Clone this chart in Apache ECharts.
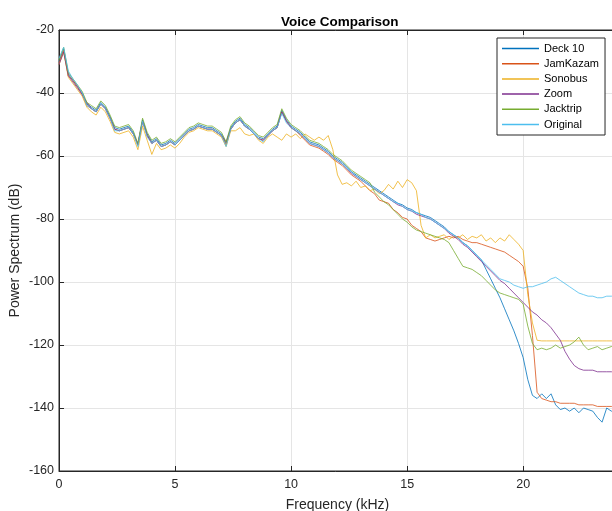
<!DOCTYPE html>
<html>
<head>
<meta charset="utf-8">
<script src="https://cdn.jsdelivr.net/npm/echarts@6/dist/echarts.min.js"></script>
<style>html,body{margin:0;padding:0;background:#fff;}#c{width:612px;height:511px;}</style>
</head>
<body>
<div id="c"></div>
<script>
const seriesNames = ['Deck 10','JamKazam','Sonobus','Zoom','Jacktrip','Original'];
const xTicks = [0,5,10,15,20];
const yTicks = [-160,-140,-120,-100,-80,-60,-40,-20];

const freqKHz = [0,0.2,0.4,0.6,0.8,1.0,1.2,1.4,1.6,1.8,2.0,2.2,2.4,2.6,2.8,3.0,3.2,3.4,3.6,3.8,
4.0,4.2,4.4,4.6,4.8,5.0,5.2,5.4,5.6,5.8,6.0,6.2,6.4,6.6,6.8,7.0,7.2,7.4,7.6,7.8,
8.0,8.2,8.4,8.6,8.8,9.0,9.2,9.4,9.6,9.8,10.0,10.2,10.4,10.6,10.8,11.0,11.2,11.4,11.6,11.8,
12.0,12.2,12.4,12.6,12.8,13.0,13.2,13.4,13.6,13.8,14.0,14.2,14.4,14.6,14.8,15.0,15.2,15.4,15.6,15.8,
16.0,16.2,16.4,16.6,16.8,17.0,17.2,17.4,17.6,17.8,18.0,18.2,18.4,18.6,18.8,19.0,19.2,19.4,19.6,19.8,
20.0,20.2,20.4,20.6,20.8,21.0,21.2,21.4,21.6,21.8,22.0,22.2,22.4,22.6,22.8,23.0,23.2,23.4,23.6,23.8,24.0];

const deck10 = [-30,-26,-34,-36,-38,-40,-43.5,-44.5,-45.5,-43,
-44.5,-47.5,-51,-51.5,-51,-50.5,-52.5,-56.5,-48.5,-53,
-55.5,-54.5,-56.5,-56,-55,-56,-54.5,-53,-51.5,-51,
-50,-50.5,-51,-51,-52,-53,-56,-51,-49,-48,
-50,-51,-52.5,-54,-54.5,-53,-51.5,-50.5,-45.5,-48.5,
-50.5,-51.5,-52.5,-54,-55.5,-56,-56.5,-57.5,-58.5,-60,
-61,-62,-63.5,-65,-66,-67,-68,-69,-70,-71,
-72,-73,-74,-75,-75.5,-76.5,-77,-78,-78.5,-79,
-79.5,-80.5,-81.5,-82.5,-84,-85,-86,-87.5,-88.5,-90,
-91.5,-93,-96,-99,-102,-105,-108.5,-112,-115.5,-119.5,
-124,-131,-136,-137,-135.5,-137,-135.5,-139,-140.5,-140,
-141,-140,-141.5,-140,-140.5,-141,-143,-144.5,-140,-141,-141];

const jamKazam = [-30.5,-26.5,-34.5,-36,-38,-40.5,-44,-45,-46,-43.5,
-45,-48,-51.5,-52,-51.5,-51,-53,-56.5,-49,-53.5,
-56,-55,-57,-56.5,-55.5,-56.5,-55,-53.5,-52,-51.5,
-50.5,-51,-51.5,-51.5,-52.5,-53.5,-56.5,-51.5,-49.5,-48.5,
-50.5,-51.5,-53,-54.5,-55,-53.5,-52,-51,-46,-49,
-51,-52,-53.5,-55,-56.5,-57,-57.5,-58.5,-59.5,-61,
-62,-63,-64.5,-66,-67,-68,-69.5,-71,-72,-74,
-74.5,-75,-77,-78,-79.5,-80,-82,-83,-84,-86,
-86.5,-87,-86.5,-86,-85.5,-86,-85.5,-86.5,-87,-87.5,
-87.5,-88,-88.5,-89,-89.5,-90,-90.5,-91.5,-92.5,-93.5,
-95,-102,-117,-135,-137,-137.5,-138,-138,-138.5,-138.5,
-138.5,-138.5,-139,-139,-139,-139,-139.5,-139.5,-139.5,-139.5,-140];

const sonobus = [-31,-27,-35,-37,-39,-41,-44.5,-46,-47,-44.5,
-46,-49,-52.5,-53,-52.5,-52,-54,-58,-50.5,-55,
-59.5,-56,-58,-57.5,-56.5,-57.5,-56,-54,-52.5,-52,
-51,-51.5,-52,-52,-53,-54,-57,-52,-52,-51,
-53,-53.5,-53,-55,-56,-54,-53,-54,-55,-53,
-54,-53,-54.5,-53,-54,-55,-54,-55,-53.5,-58,
-66,-69,-68.5,-69.5,-68,-70,-69.5,-71,-70.5,-72,
-71,-69,-70.5,-68,-70,-67.5,-68.5,-71,-82,-86,
-85,-86,-85.5,-85,-86.5,-85.5,-86,-85,-86.5,-85.5,
-86,-85,-87,-86,-87.5,-86,-87,-85,-86.5,-88,
-90,-104,-113,-118.5,-118.7,-118.7,-118.7,-118.7,-118.7,-118.7,
-118.7,-118.7,-118.7,-118.7,-118.7,-118.7,-118.7,-118.7,-118.7,-118.7,-118.7];

const zoomApp = [-31,-27,-34.5,-36.5,-38.5,-40.5,-43,-45,-46,-43.5,
-45,-48,-51.5,-52,-51.5,-51,-53,-56,-49,-53.5,
-56,-55,-57,-56.5,-55.5,-56.5,-55,-53.5,-52,-51.5,
-50.5,-51,-51.5,-51.5,-52.5,-53.5,-55.5,-51.5,-49.5,-48.5,
-50.5,-51.5,-53,-54.5,-55,-53.5,-52,-51,-46,-49,
-51,-52,-53,-54.5,-56,-56.5,-57,-58,-59,-60.5,
-61.5,-62.5,-64,-65.5,-66.5,-67.5,-68.5,-69.5,-70.5,-71.5,
-72.5,-73.5,-74.5,-75.5,-76,-77,-77.5,-78.5,-79,-79.5,
-80,-81,-82,-83,-84.5,-85.5,-86.5,-88,-89,-90.5,
-92,-93.5,-95,-96.5,-98,-99.5,-100.5,-102,-103.5,-105,
-106.5,-108,-109.5,-110.5,-112,-113,-114.5,-116.5,-118.5,-122,
-124.5,-126.5,-127.5,-128,-128,-128,-128.5,-128.5,-128.5,-128.5,-128.5];

const jacktrip = [-29.5,-25.5,-33.5,-35.5,-37.5,-39.5,-43,-44,-45,-42.5,
-44,-47,-50.5,-51,-50.5,-50,-52,-56,-48,-52.5,
-55,-54,-56,-55.5,-54.5,-55.5,-54,-52.5,-51,-50.5,
-49.5,-50,-50.5,-50.5,-51.5,-52.5,-55.5,-50.5,-48.5,-47.5,
-49.5,-50.5,-52,-53.5,-54,-52.5,-51,-50,-45,-48,
-50,-51,-52,-53.5,-55,-55.5,-56,-57,-58,-59.5,
-60.5,-61.5,-63,-64.5,-65.5,-66.5,-67.5,-68.5,-71.5,-73,
-74.5,-75.5,-77,-78.5,-80,-81,-82.5,-83.5,-84,-84.5,
-85,-85.5,-86,-86.5,-87.5,-90,-92.5,-95,-95.5,-96,
-97,-98,-99.5,-101,-102.5,-103.5,-104,-104.5,-105,-105.5,
-107,-114,-119.5,-121.5,-121,-121.5,-121,-120,-121,-120.5,
-120,-119,-117.5,-120,-121.5,-121,-120.5,-121.5,-121,-120.5,-120];

const original = [-29,-25.5,-33,-35.5,-37.5,-40,-44,-45,-46,-43.5,
-45,-48,-52,-52,-51.5,-51,-53,-57,-49,-54,
-56,-55,-57,-56.5,-55.5,-56.5,-55,-53.5,-52,-51.5,
-50.5,-51,-51.5,-51.5,-52.5,-53.5,-57,-51.5,-49.5,-48.5,
-50.5,-51.5,-53,-54.5,-55.5,-53.5,-52,-51,-46.5,-49.5,
-51,-52,-53,-54.5,-56,-56.5,-57,-58,-59,-60.5,
-61.5,-62.5,-64,-65,-66.5,-67.5,-68.5,-69.5,-70.5,-71.5,
-72.5,-73.5,-74.5,-75,-76,-77,-77.5,-78,-78.5,-79.5,
-80,-81,-82,-83,-84,-85,-86,-87.5,-88.5,-90,
-91.5,-93,-94.5,-96,-97.5,-99,-99.5,-100,-101,-101.5,
-102,-101.5,-101.5,-101,-100.5,-100,-99,-98.5,-99.5,-100.5,
-101.5,-102.5,-103.5,-104,-104.5,-104.5,-105,-105,-104.5,-104.5,-104.5];

const seriesValues = [deck10, jamKazam, sonobus, zoomApp, jacktrip, original];
const seriesColors = ['#0072BD','#D95319','#EDB120','#7E2F8E','#77AC30','#4DBEEE'];

const FONT = 'Liberation Sans';
const AX = '#262626';

const chart = echarts.init(document.getElementById('c'), null, {renderer: 'canvas'});
chart.setOption({
  animation: false,
  backgroundColor: '#fff',
  title: {
    text: 'Voice Comparison', left: 276, top: 10,
    textStyle: {fontFamily: FONT, fontSize: 13.5, fontWeight: 'bold', color: '#000'}
  },
  legend: {
    data: seriesNames, orient: 'vertical', left: 497, top: 38,
    padding: [4, 6, 4, 5], itemGap: 2.2, itemWidth: 37, itemHeight: 1.5, icon: 'rect',
    backgroundColor: '#fff', borderColor: '#262626', borderWidth: 1, borderRadius: 0,
    textStyle: {fontFamily: FONT, fontSize: 11, color: '#000', lineHeight: 13}
  },
  grid: {left: 59, top: 30, width: 557, height: 441, outerBoundsMode: 'none', containLabel: false,
    show: true, borderColor: AX, borderWidth: 1, backgroundColor: 'transparent'},
  xAxis: [{
    type: 'value', min: 0, max: 24, interval: 5,
    name: 'Frequency (kHz)', nameLocation: 'middle', nameGap: 27, nameMoveOverlap: false,
    nameTextStyle: {fontFamily: FONT, fontSize: 14, color: AX},
    axisLine: {show: true, lineStyle: {color: AX, width: 1}},
    axisTick: {show: true, inside: true, length: 5, lineStyle: {color: AX}},
    axisLabel: {fontFamily: FONT, fontSize: 12.5, color: AX, margin: 7, showMaxLabel: false,
      formatter: v => (xTicks.indexOf(v) >= 0 ? String(v) : '')},
    splitLine: {show: true, lineStyle: {color: '#e5e5e5', width: 1}}
  }, {
    type: 'value', min: 0, max: 24, interval: 5, position: 'top',
    axisLine: {show: true, lineStyle: {color: AX}},
    axisTick: {show: true, inside: true, length: 5, lineStyle: {color: AX}},
    axisLabel: {show: false}, splitLine: {show: false}
  }],
  yAxis: {
    type: 'value', min: -160, max: -20, interval: 20,
    name: 'Power Spectrum (dB)', nameLocation: 'middle', nameGap: 37, nameMoveOverlap: false,
    nameTextStyle: {fontFamily: FONT, fontSize: 14, color: AX},
    axisLine: {show: true, lineStyle: {color: AX, width: 1}},
    axisTick: {show: true, inside: true, length: 5, lineStyle: {color: AX}},
    axisLabel: {fontFamily: FONT, fontSize: 12.5, color: AX, margin: 5,
      formatter: v => (yTicks.indexOf(v) >= 0 ? String(v) : '')},
    splitLine: {show: true, lineStyle: {color: '#e5e5e5', width: 1}}
  },
  series: seriesNames.map((name, i) => ({
    name: name, type: 'line', xAxisIndex: 0, showSymbol: false, symbol: 'none',
    data: freqKHz.map((f, k) => [f, seriesValues[i][k]]),
    lineStyle: {color: seriesColors[i], width: 0.8},
    itemStyle: {color: seriesColors[i]},
    clip: true
  }))
});
</script>
</body>
</html>
